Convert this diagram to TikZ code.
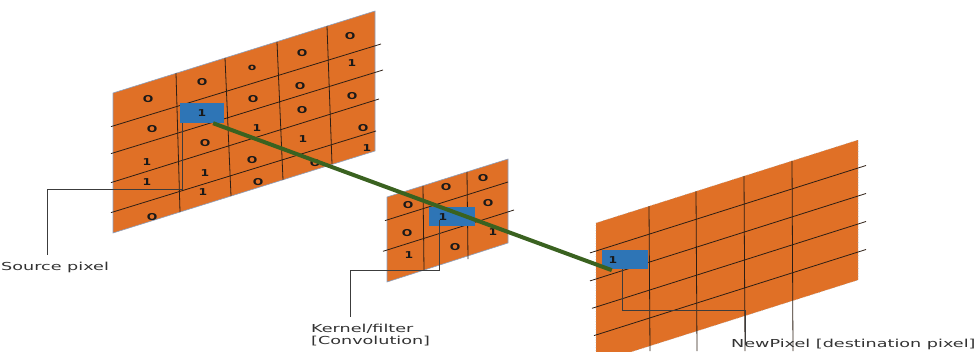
\documentclass[tikz,border=0pt]{standalone}
\usepackage{fontspec}
\usetikzlibrary{calc}
\newfontfamily\lblfont[FakeStretch=1.6]{DejaVu Sans}
\newfontfamily\digfont[FakeStretch=1.3]{DejaVu Sans}
\definecolor{panelor}{RGB}{224,112,38}
\definecolor{pixblue}{RGB}{46,117,182}
\definecolor{linkgreen}{RGB}{58,98,32}
\definecolor{gridln}{RGB}{45,30,20}
\definecolor{edgeblue}{RGB}{140,160,190}
\definecolor{calloutc}{RGB}{60,60,60}
\definecolor{lbltext}{RGB}{50,50,50}
\tikzset{
  panel/.style={fill=panelor, draw=edgeblue, line width=0.6pt},
  gridline/.style={draw=gridln, line width=0.8pt},
  pixbox/.style={fill=pixblue, draw=none, minimum width=44pt, minimum height=20pt, inner sep=0pt},
  dig/.style={font=\digfont\bfseries\fontsize{9.5}{9.5}\selectfont, text=black!90, inner sep=0pt},
  link/.style={draw=linkgreen, line width=4pt},
  callout/.style={draw=calloutc, line width=0.8pt},
  lbl/.style={font=\lblfont\fontsize{11}{12.5}\selectfont, text=lbltext, inner sep=0pt},
}
\begin{document}
\begin{tikzpicture}[x=1pt,y=-1pt]
\useasboundingbox (0,0) rectangle (977,351);
\clip (0,0) rectangle (977,351);

% ---------- source panel ----------
\path[panel] (113,93) -- (375,11) -- (375,151) -- (113,233) -- cycle;
\draw[gridline] (111,126.6) -- (381,44);
\draw[gridline] (111,153.6) -- (383,70);
\draw[gridline] (111,182.6) -- (379,99);
\draw[gridline] (111,212.6) -- (376,131);
\draw[gridline] (176,73) -- (180,212);
\draw[gridline] (225,58) -- (231,196);
\draw[gridline] (277,42) -- (283,180);
\draw[gridline] (327,26) -- (332,164);
\foreach \x/\y/\t [count=\i] in {
  148/99/O, 202/82/O, 252/68/o, 302/53/O, 350/36/O,
  152/129/O, 253/99/O, 300/86/O, 352/63/1,
  147/162/1, 205/143/O, 257/128/1, 302/110/O, 352/96/O,
  147/182/1, 205/173/1, 252/160/O, 303/139/1, 363/128/O,
  152/217/O, 203/192/1, 258/182/O, 315/163/O, 367/148/1}
  \node[dig] (sd\i) at (\x,\y) {\t};

% ---------- kernel panel ----------
\path[panel] (387,197) -- (508,159) -- (508,243) -- (387,282) -- cycle;
\draw[gridline] (385,220.6) -- (508,182);
\draw[gridline] (383,251.3) -- (514,210);
\draw[gridline] (423,186) -- (424,270.5);
\draw[gridline] (467,172) -- (468,259);
\foreach \x/\y/\t [count=\i] in {
  408/205/O, 446/187/O, 483/178/O,
  407/233/O, 488/203/O,
  409/255/1, 455/247/O, 493/232/1}
  \node[dig] (kd\i) at (\x,\y) {\t};

% ---------- destination panel ----------
\fill[panelor] (596,223) -- (858,140) -- (858,280) -- (596,363) -- cycle;
\draw[gray!70, dotted, line width=0.6pt] (596,223) -- (858,140) -- (858,280) -- (596,363) -- cycle;
\draw[gridline] (590,252.9) -- (866,165.5);
\draw[gridline] (590,280.9) -- (866,193.5);
\draw[gridline] (592,308.3) -- (866,221.5);
\draw[gridline] (594,335.6) -- (866,249.5);
\draw[gridline] (649,206.2) -- (650,351);
\draw[gridline] (696,191.3) -- (697,351);
\draw[gridline] (744,176.1) -- (745,351);
\draw[gridline] (792,160.9) -- (793,351);

% ---------- pixel boxes ----------
\node[pixbox] (srcpx) at (202,113) {};
\node[dig] (srcdig) at (202,113) {1};
\node[pixbox, minimum width=46pt, minimum height=19pt] (kerpx) at (452,216.5) {};
\node[dig] (kerdig) at (443,217) {1};
\node[pixbox, minimum width=46pt, minimum height=19pt] (dstpx) at (625,259.5) {};
\node[dig] (dstdig) at (613,260) {1};

% ---------- labels ----------
\node[lbl, anchor=base west] (srclbl) at (1,270) {Source pixel};
\node[lbl, anchor=north west, align=left] (kerlbl) at (311,323.5) {Kernel/filter\\{}[Convolution]};
\node[lbl, anchor=base west] (dstlbl) at (731,347) {NewPixel [destination pixel]};

% ---------- callouts ----------
\coordinate (srcend) at (47,255);
\coordinate (kerend) at (350,317);
\coordinate (dstend) at (745,345);
\draw[callout] ([xshift=3pt]srcpx.south west) -- ++(0,66) -| (srcend);
\draw[callout] ($(kerpx.south west)+(11,-6)$) -- ++(0,50) -| (kerend);
\draw[callout] ([xshift=21pt]dstpx.south west) -- ++(0,41) -| (dstend);

% ---------- green link ----------
\draw[link] ($(srcpx.south)!0.5!(srcpx.south east)$) -- ($(dstpx.south west)+(10,1)$);
\end{tikzpicture}
\end{document}
